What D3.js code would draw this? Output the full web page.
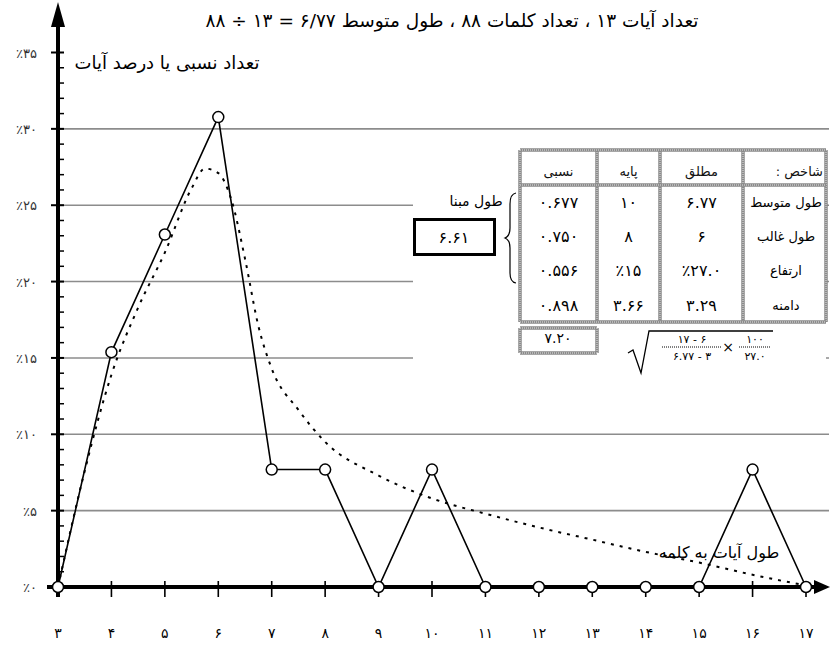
<!DOCTYPE html>
<html><head><meta charset="utf-8">
<script src="https://cdn.jsdelivr.net/npm/d3@7"></script>
<style>
html,body{margin:0;padding:0;background:#fff;}
svg text{font-family:"DejaVu Sans",sans-serif;}
</style>
</head><body>
<svg id="c" width="830" height="645"></svg>
<script>
// ---- data ----
const lengths = [3,4,5,6,7,8,9,10,11,12,13,14,15,16,17];
const lengthLabels = ["۳","۴","۵","۶","۷","۸","۹","۱۰","۱۱","۱۲","۱۳","۱۴","۱۵","۱۶","۱۷"];
const percents = [0,15.38,23.08,30.77,7.69,7.69,0,7.69,0,0,0,0,0,7.69,0];
const fitX = [3,3.5,4,4.5,5,5.5,5.75,6,6.25,6.5,6.75,7,7.5,8,9,10,11,12,13,14,15,16,17];
const fitY = [0,7.6,13.9,18.3,21.9,26.1,27.4,27.1,25.3,21.5,17.1,14.3,11.6,9.5,7.3,5.8,4.8,3.9,3.1,2.3,1.6,0.8,0.1];
const yTicks = [0,5,10,15,20,25,30,35];
const yTickLabels = ["٪۰","٪۵","٪۱۰","٪۱۵","٪۲۰","٪۲۵","٪۳۰","٪۳۵"];
const titleText = "تعداد آیات ۱۳ ، تعداد کلمات ۸۸ ، طول متوسط ۶/۷۷ = ۱۳ ÷ ۸۸";
const yAxisTitle = "تعداد نسبی یا درصد آیات";
const seriesLabel = "طول آیات به کلمه";
const tableHeaders = ["نسبی","پایه","مطلق","شاخص :"];
const rowLabels = ["طول متوسط","طول غالب","ارتفاع","دامنه"];
const colRelative = ["۰.۶۷۷","۰.۷۵۰","۰.۵۵۶","۰.۸۹۸"];
const colBase = ["۱۰","۸","٪۱۵","۳.۶۶"];
const colAbsolute = ["۶.۷۷","۶","٪۲۷.۰","۳.۲۹"];
const totalRelative = "۷.۲۰";
const baseLengthTitle = "طول مبنا";
const baseLengthValue = "۶.۶۱";
const formulaNum1 = "۱۷ - ۶", formulaDen1 = "۶.۷۷ - ۳", formulaNum2 = "۱۰۰", formulaDen2 = "۲۷.۰";

// ---- layout ----
const svg = d3.select("#c");
const x = d3.scaleLinear().domain([3,17]).range([58,806]);
const y = d3.scaleLinear().domain([0,35]).range([587,52.5]);

// gridlines
svg.append("g").selectAll("line").data(yTicks.filter(d=>d>0 && d<35)).join("line")
  .attr("x1",58).attr("x2",829).attr("y1",d=>y(d)).attr("y2",d=>y(d))
  .attr("stroke","#8c8c8c").attr("stroke-width",1.6);

// white panel behind table
svg.append("rect").attr("x",413).attr("y",140).attr("width",413).attr("height",236).attr("fill","#fff");

// fitted dotted curve
svg.append("path").datum(fitX.map((v,i)=>[v,fitY[i]]))
  .attr("d",d3.line().x(d=>x(d[0])).y(d=>y(d[1])).curve(d3.curveMonotoneX))
  .attr("fill","none").attr("stroke","#000").attr("stroke-width",2).attr("stroke-dasharray","3 6");

// axes
const ax = svg.append("g");
ax.append("line").attr("x1",58).attr("x2",58).attr("y1",597).attr("y2",22).attr("stroke","#000").attr("stroke-width",4);
ax.append("path").attr("d","M58,2 L51,27 L65,27 Z").attr("fill","#000");
ax.append("line").attr("x1",47).attr("x2",818).attr("y1",587).attr("y2",587).attr("stroke","#000").attr("stroke-width",4);
ax.append("path").attr("d","M830,587 L814,580 L814,594 Z").attr("fill","#000");
ax.selectAll(".ymin").data(y.ticks(35)).join("line")
  .attr("x1",d=>d%5===0?51:58).attr("x2",64).attr("y1",d=>y(d)).attr("y2",d=>y(d))
  .attr("stroke","#000").attr("stroke-width",d=>d%5===0?2:1.5);
ax.selectAll(".ylab").data(yTicks).join("text")
  .attr("x",37).attr("y",d=>y(d)+5).attr("text-anchor","end").attr("direction","ltr")
  .attr("font-size",13).attr("fill","#333").text((d,i)=>yTickLabels[i]);
ax.selectAll(".xt").data(lengths).join("line")
  .attr("x1",d=>x(d)).attr("x2",d=>x(d)).attr("y1",581).attr("y2",597)
  .attr("stroke","#000").attr("stroke-width",1.6);
ax.selectAll(".xl").data(lengths).join("text")
  .attr("x",d=>x(d)).attr("y",638).attr("text-anchor","middle")
  .attr("font-size",14).attr("fill","#000").text((d,i)=>lengthLabels[i]);

// data line + markers
const pts = lengths.map((v,i)=>[v,percents[i]]);
svg.append("path").datum(pts).attr("d",d3.line().x(d=>x(d[0])).y(d=>y(d[1])))
  .attr("fill","none").attr("stroke","#000").attr("stroke-width",1.6);
svg.append("g").selectAll("circle").data(pts).join("circle")
  .attr("cx",d=>x(d[0])).attr("cy",d=>y(d[1])).attr("r",5.5)
  .attr("fill","#fff").attr("stroke","#000").attr("stroke-width",1.5);

// titles
svg.append("text").attr("x",452).attr("y",27).attr("text-anchor","middle").attr("direction","rtl")
  .attr("font-size",18.5).text(titleText);
svg.append("text").attr("x",167).attr("y",69).attr("text-anchor","middle").attr("direction","rtl")
  .attr("font-size",18).text(yAxisTitle);
svg.append("text").attr("x",719).attr("y",558).attr("text-anchor","middle").attr("direction","rtl")
  .attr("font-size",16).text(seriesLabel);

// table
const colX = [520,597,660,743,826];
const rowY = [150,185,219,253,287,322];
const tg = svg.append("g");
function hatchLine(x1,y1,x2,y2){
  tg.append("line").attr("x1",x1).attr("y1",y1).attr("x2",x2).attr("y2",y2).attr("stroke","#8a8a8a").attr("stroke-width",3.5);
  tg.append("line").attr("x1",x1).attr("y1",y1).attr("x2",x2).attr("y2",y2).attr("stroke","#e6e6e6").attr("stroke-width",1).attr("stroke-dasharray","1 1");
}
colX.forEach(cx=>hatchLine(cx,rowY[0],cx,rowY[5]));
hatchLine(colX[0],rowY[0],colX[4],rowY[0]);
hatchLine(colX[0],rowY[1],colX[4],rowY[1]);
hatchLine(colX[0],rowY[5],colX[4],rowY[5]);
const colCenters = d3.range(4).map(i=>(colX[i]+colX[i+1])/2);
tg.selectAll(".hd").data(tableHeaders).join("text")
  .attr("x",(d,i)=>i===3?823:colCenters[i]).attr("y",176)
  .attr("text-anchor",(d,i)=>i===3?"start":"middle").attr("direction","rtl")
  .attr("font-size",13).attr("fill","#111").text(d=>d);
const cols = [colRelative,colBase,colAbsolute];
cols.forEach((arr,ci)=>{
  tg.selectAll(".c"+ci).data(arr).join("text")
    .attr("x",colCenters[ci]).attr("y",(d,i)=>(rowY[i+1]+rowY[i+2])/2+6)
    .attr("text-anchor","middle").attr("direction","ltr")
    .attr("font-size",16).attr("fill","#000").text(d=>d);
});
tg.selectAll(".rl").data(rowLabels).join("text")
  .attr("x",786).attr("y",(d,i)=>(rowY[i+1]+rowY[i+2])/2+5)
  .attr("text-anchor","middle").attr("direction","rtl")
  .attr("font-size",13).attr("fill","#000").text(d=>d);

// total box
hatchLine(520,328,597,328); hatchLine(520,353,597,353);
hatchLine(520,328,520,353); hatchLine(597,328,597,353);
tg.append("text").attr("x",558).attr("y",343).attr("text-anchor","middle").attr("direction","ltr")
  .attr("font-size",14).text(totalRelative);

// formula
tg.append("path").attr("d","M628,353 L633,350 L641,373 L649,331 L773,331")
  .attr("fill","none").attr("stroke","#000").attr("stroke-width",1.3);
tg.append("text").attr("x",692).attr("y",343).attr("text-anchor","middle").attr("direction","ltr").attr("font-size",11).text(formulaNum1);
tg.append("line").attr("x1",662).attr("x2",722).attr("y1",347).attr("y2",347).attr("stroke","#000").attr("stroke-width",1).attr("stroke-dasharray","1 1");
tg.append("text").attr("x",692).attr("y",360).attr("text-anchor","middle").attr("direction","ltr").attr("font-size",11).text(formulaDen1);
tg.append("text").attr("x",728).attr("y",352).attr("text-anchor","middle").attr("font-size",14).text("×");
tg.append("text").attr("x",755).attr("y",343).attr("text-anchor","middle").attr("direction","ltr").attr("font-size",11).text(formulaNum2);
tg.append("line").attr("x1",739).attr("x2",771).attr("y1",347).attr("y2",347).attr("stroke","#000").attr("stroke-width",1).attr("stroke-dasharray","1 1");
tg.append("text").attr("x",755).attr("y",360).attr("text-anchor","middle").attr("direction","ltr").attr("font-size",11).text(formulaDen2);

// base length box
svg.append("text").attr("x",476).attr("y",206).attr("text-anchor","middle").attr("direction","rtl")
  .attr("font-size",14).text(baseLengthTitle);
svg.append("rect").attr("x",414.5).attr("y",219.5).attr("width",80).attr("height",35)
  .attr("fill","#fff").attr("stroke","#000").attr("stroke-width",3);
svg.append("text").attr("x",454).attr("y",243).attr("text-anchor","middle").attr("direction","ltr")
  .attr("font-size",16).text(baseLengthValue);
svg.append("path").attr("d","M516,193 Q510,194 510,204 L510,228 Q510,236 505,238 Q510,240 510,248 L510,273 Q510,282 516,283")
  .attr("fill","none").attr("stroke","#000").attr("stroke-width",1.2);
</script>
</body></html>
